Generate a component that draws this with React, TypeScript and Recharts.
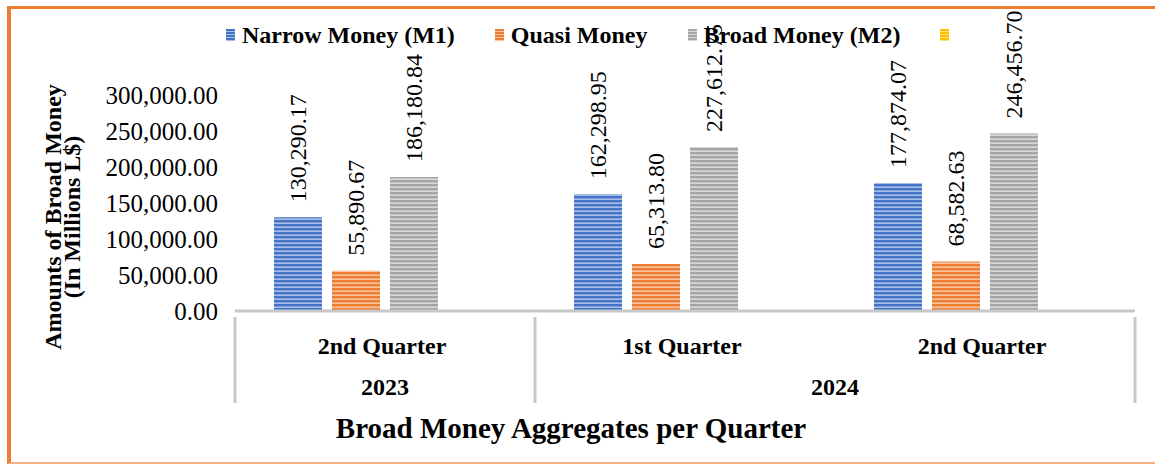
import { Bar, BarChart, LabelList, XAxis, YAxis, Label } from "recharts"

const quarters = ["2nd Quarter", "1st Quarter", "2nd Quarter"]
const years = ["2023", "2024", "2024"]
const narrowMoney = [130290.17, 162298.95, 177874.07]
const quasiMoney = [55890.67, 65313.8, 68582.63]
const broadMoney = [186180.84, 227612.75, 246456.7]
// fourth series has a legend entry but no values
const unnamedSeries = [null, null, null]
const yTicks = [0, 50000, 100000, 150000, 200000, 250000, 300000]

const legendItems = [
  { label: "Narrow Money (M1)", color: "#4472C4", light: "#A9BEE6" },
  { label: "Quasi Money", color: "#ED7D31", light: "#F7C3A0" },
  { label: "Broad Money (M2)", color: "#A5A5A5", light: "#D9D9D9" },
  { label: "", color: "#FFC000", light: "#FFE080" },
]

const data = quarters.map((q, i) => ({
  key: `${years[i]}-${q}-${i}`,
  quarter: q,
  year: years[i],
  narrow: narrowMoney[i],
  quasi: quasiMoney[i],
  broad: broadMoney[i],
  other: unnamedSeries[i],
}))

const WIDTH = 1155
const HEIGHT = 467
const MARGIN = { top: 95, right: 20, bottom: 40, left: 0 }
const Y_WIDTH = 235
const X_HEIGHT = 116
const FONT = "'Liberation Serif', 'Times New Roman', serif"
const AXIS_GREY = "#C8C8C8"

const fmt = (v: number) =>
  v.toLocaleString("en-US", { minimumFractionDigits: 2, maximumFractionDigits: 2 })

const bandW = (WIDTH - MARGIN.left - MARGIN.right - Y_WIDTH) / data.length

function CategoryTick(props: any) {
  const { x, y, index } = props
  const d = data[index]
  if (!d) return null
  const left = x - bandW / 2
  const right = x + bandW / 2
  const yearStart = index === 0 || data[index - 1].year !== d.year
  const isLast = index === data.length - 1
  let span = 1
  if (yearStart) {
    while (index + span < data.length && data[index + span].year === d.year) span++
  }
  const top = y - 2
  return (
    <g>
      <text
        x={x - 3}
        y={top + 29}
        textAnchor="middle"
        dominantBaseline="central"
        fontFamily={FONT}
        fontWeight="bold"
        fontSize={24}
        fill="#000"
      >
        {d.quarter}
      </text>
      {yearStart && (
        <>
          <line x1={left} x2={left} y1={top} y2={top + 86} stroke={AXIS_GREY} strokeWidth={3} />
          <text
            x={left + (span * bandW) / 2}
            y={top + 70}
            textAnchor="middle"
            dominantBaseline="central"
            fontFamily={FONT}
            fontWeight="bold"
            fontSize={24}
            fill="#000"
          >
            {d.year}
          </text>
        </>
      )}
      {isLast && (
        <line x1={right} x2={right} y1={top} y2={top + 86} stroke={AXIS_GREY} strokeWidth={3} />
      )}
    </g>
  )
}

function ValueLabel(props: any) {
  const { x, y, width, value } = props
  if (value == null) return null
  const cx = x + width / 2
  const ty = y - 15
  return (
    <text
      x={cx}
      y={ty}
      transform={`rotate(-90, ${cx}, ${ty})`}
      textAnchor="start"
      dominantBaseline="central"
      fontFamily={FONT}
      fontSize={24}
      fill="#000"
    >
      {fmt(value)}
    </text>
  )
}

function ChartLegend() {
  return (
    <div
      style={{
        position: "absolute",
        top: 22,
        left: 226,
        display: "flex",
        alignItems: "center",
        fontFamily: FONT,
        zIndex: 1,
      }}
    >
      {legendItems.map((item, i) => (
        <div key={i} style={{ display: "flex", alignItems: "center", marginRight: 40 }}>
          <span
            style={{
              display: "inline-block",
              width: 9,
              height: 12,
              marginRight: 7,
              background: `repeating-linear-gradient(${item.color} 0 2px, ${item.light} 2px 3px)`,
            }}
          />
          <span style={{ fontWeight: "bold", fontSize: 24, color: "#000", lineHeight: "26px" }}>
            {item.label}
          </span>
        </div>
      ))}
    </div>
  )
}

export default function App() {
  return (
    <div style={{ position: "absolute", left: 0, top: 0, width: WIDTH, height: HEIGHT, background: "#fff" }}>
      <div
        style={{
          position: "absolute",
          left: 7,
          top: 6,
          width: WIDTH,
          height: 458,
          borderLeft: "4px solid #ED7D31",
          borderTop: "3px solid #ED7D31",
          borderBottom: "2px solid #F4B183",
          boxSizing: "border-box",
        }}
      />
      <BarChart
        width={WIDTH}
        height={HEIGHT}
        data={data}
        margin={MARGIN}
        barSize={48}
        barGap={10}
        style={{ position: "absolute", left: 0, top: 0 }}
      >
        <defs>
          {legendItems.map((item, i) => (
            <pattern key={i} id={`stripe${i}`} width={4} height={4} patternUnits="userSpaceOnUse">
              <rect width={4} height={4} fill={item.light} />
              <rect width={4} height={2.4} fill={item.color} />
            </pattern>
          ))}
        </defs>
        <XAxis
          dataKey="key"
          height={X_HEIGHT}
          axisLine={{ stroke: AXIS_GREY, strokeWidth: 3 }}
          tickLine={false}
          interval={0}
          tick={<CategoryTick />}
        >
          <Label
            content={({ viewBox }: any) => (
              <text
                x={viewBox.x + viewBox.width / 2 - 114}
                y={viewBox.y + 117}
                textAnchor="middle"
                dominantBaseline="central"
                fontFamily={FONT}
                fontWeight="bold"
                fontSize={29}
                fill="#000"
              >
                Broad Money Aggregates per Quarter
              </text>
            )}
          />
        </XAxis>
        <YAxis
          width={Y_WIDTH}
          domain={[0, 300000]}
          ticks={yTicks}
          interval={0}
          axisLine={false}
          tickLine={false}
          tickSize={0}
          tickMargin={17}
          tickFormatter={fmt}
          tick={{ fontFamily: FONT, fontSize: 25, fill: "#000" }}
        >
          <Label
            content={() => (
              <text
                transform="translate(0, 217) rotate(-90)"
                textAnchor="middle"
                fontFamily={FONT}
                fontWeight="bold"
                fontSize={24}
                fill="#000"
              >
                <tspan x={0} y={61}>Amounts of Broad Money</tspan>
                <tspan x={0} y={80}>(In Millions L$)</tspan>
              </text>
            )}
          />
        </YAxis>
        <Bar dataKey="narrow" fill="url(#stripe0)" isAnimationActive={false}>
          <LabelList dataKey="narrow" content={<ValueLabel />} />
        </Bar>
        <Bar dataKey="quasi" fill="url(#stripe1)" isAnimationActive={false}>
          <LabelList dataKey="quasi" content={<ValueLabel />} />
        </Bar>
        <Bar dataKey="broad" fill="url(#stripe2)" isAnimationActive={false}>
          <LabelList dataKey="broad" content={<ValueLabel />} />
        </Bar>
        <Bar dataKey="other" fill="url(#stripe3)" isAnimationActive={false} />
      </BarChart>
      <ChartLegend />
    </div>
  )
}
